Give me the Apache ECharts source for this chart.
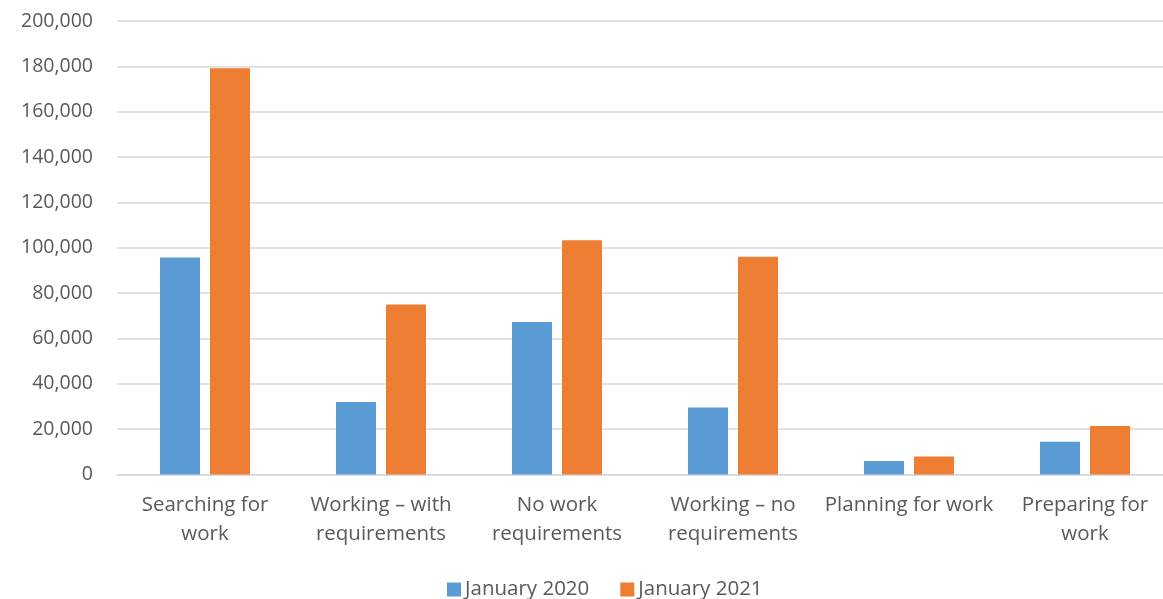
<!DOCTYPE html>
<html>
<head>
<meta charset="utf-8">
<script src="https://cdn.jsdelivr.net/npm/echarts@6/dist/echarts.min.js"></script>
<style>
  html, body { margin: 0; padding: 0; background: #fff; overflow: hidden; width: 1163px; height: 599px; }
  /* canvas is a little wider than the page so the plot area runs off the right edge */
  #chart { width: 1173px; height: 599px; }
</style>
</head>
<body>
<div id="chart"></div>
<script>
// Participants by activity type
const categories = [
  'Searching for\nwork',
  'Working – with\nrequirements',
  'No work\nrequirements',
  'Working – no\nrequirements',
  'Planning for work',
  'Preparing for\nwork'
];
const jan2020 = [95700, 32000, 67200, 29600, 6000, 14400];
const jan2021 = [179200, 75000, 103300, 96000, 7900, 21400];
const seriesNames = ['January 2020', 'January 2021'];

const textColor = '#595959';
const gridColor = '#d9d9d9';
const fontFamily = '"Open Sans", "Liberation Sans", sans-serif';

const chart = echarts.init(document.getElementById('chart'), null, { renderer: 'canvas' });
chart.setOption({
  animation: false,
  textStyle: { fontFamily: fontFamily },
  grid: { left: 117, right: 0, top: 21, bottom: 124.5, containLabel: false },
  legend: {
    data: seriesNames,
    left: 442,
    top: 574,
    itemWidth: 14,
    itemHeight: 14,
    itemGap: 31,
    icon: 'rect',
    textStyle: { color: textColor, fontSize: 20.5, fontFamily: fontFamily, padding: [0, 0, 0, -1] }
  },
  xAxis: {
    type: 'category',
    data: categories,
    axisLine: { lineStyle: { color: gridColor, width: 1.5 } },
    axisTick: { show: false },
    axisLabel: {
      color: textColor, fontSize: 20.5, fontFamily: fontFamily,
      margin: 16, lineHeight: 29, interval: 0
    }
  },
  yAxis: {
    type: 'value',
    min: 0,
    max: 200000,
    interval: 20000,
    axisLine: { show: false },
    axisTick: { show: false },
    splitLine: { lineStyle: { color: gridColor, width: 1.5 } },
    axisLabel: {
      color: textColor, fontSize: 19.5, fontFamily: fontFamily, margin: 24,
      formatter: v => v.toLocaleString('en-US')
    }
  },
  series: [
    {
      name: seriesNames[0], type: 'bar', data: jan2020,
      barWidth: 40, barGap: '25%',
      itemStyle: { color: '#5B9BD5' }
    },
    {
      name: seriesNames[1], type: 'bar', data: jan2021,
      barWidth: 40, barGap: '25%',
      itemStyle: { color: '#ED7D31' }
    }
  ]
});
</script>
</body>
</html>
